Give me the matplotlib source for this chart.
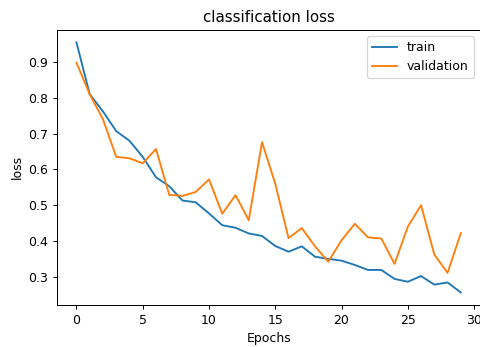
import numpy as np
import matplotlib
matplotlib.use("Agg")
from matplotlib import pyplot as plt

# loss per epoch
train = [0.955, 0.81, 0.762, 0.707, 0.68, 0.635, 0.578, 0.553, 0.513, 0.508,
         0.477, 0.444, 0.437, 0.421, 0.414, 0.386, 0.37, 0.385, 0.356, 0.35,
         0.345, 0.333, 0.319, 0.319, 0.294, 0.286, 0.302, 0.278, 0.284, 0.256]
validation = [0.898, 0.81, 0.74, 0.635, 0.631, 0.617, 0.657, 0.529, 0.526, 0.537,
              0.572, 0.476, 0.528, 0.458, 0.676, 0.56, 0.408, 0.436, 0.385, 0.342,
              0.402, 0.448, 0.41, 0.407, 0.336, 0.44, 0.5, 0.362, 0.311, 0.422]
epochs = np.arange(len(train))

dpi = 90
fig = plt.figure(figsize=(481 / dpi, 347 / dpi), dpi=dpi)
ax = fig.add_axes([0.119, 0.121, 0.879, 0.793])
ax.plot(epochs, train, label='train')
ax.plot(epochs, validation, label='validation')
ax.set_title('classification loss')
ax.set_xlabel('Epochs')
ax.set_ylabel('loss')
ax.legend(loc='upper right')
fig.savefig('out.png', dpi=dpi)
